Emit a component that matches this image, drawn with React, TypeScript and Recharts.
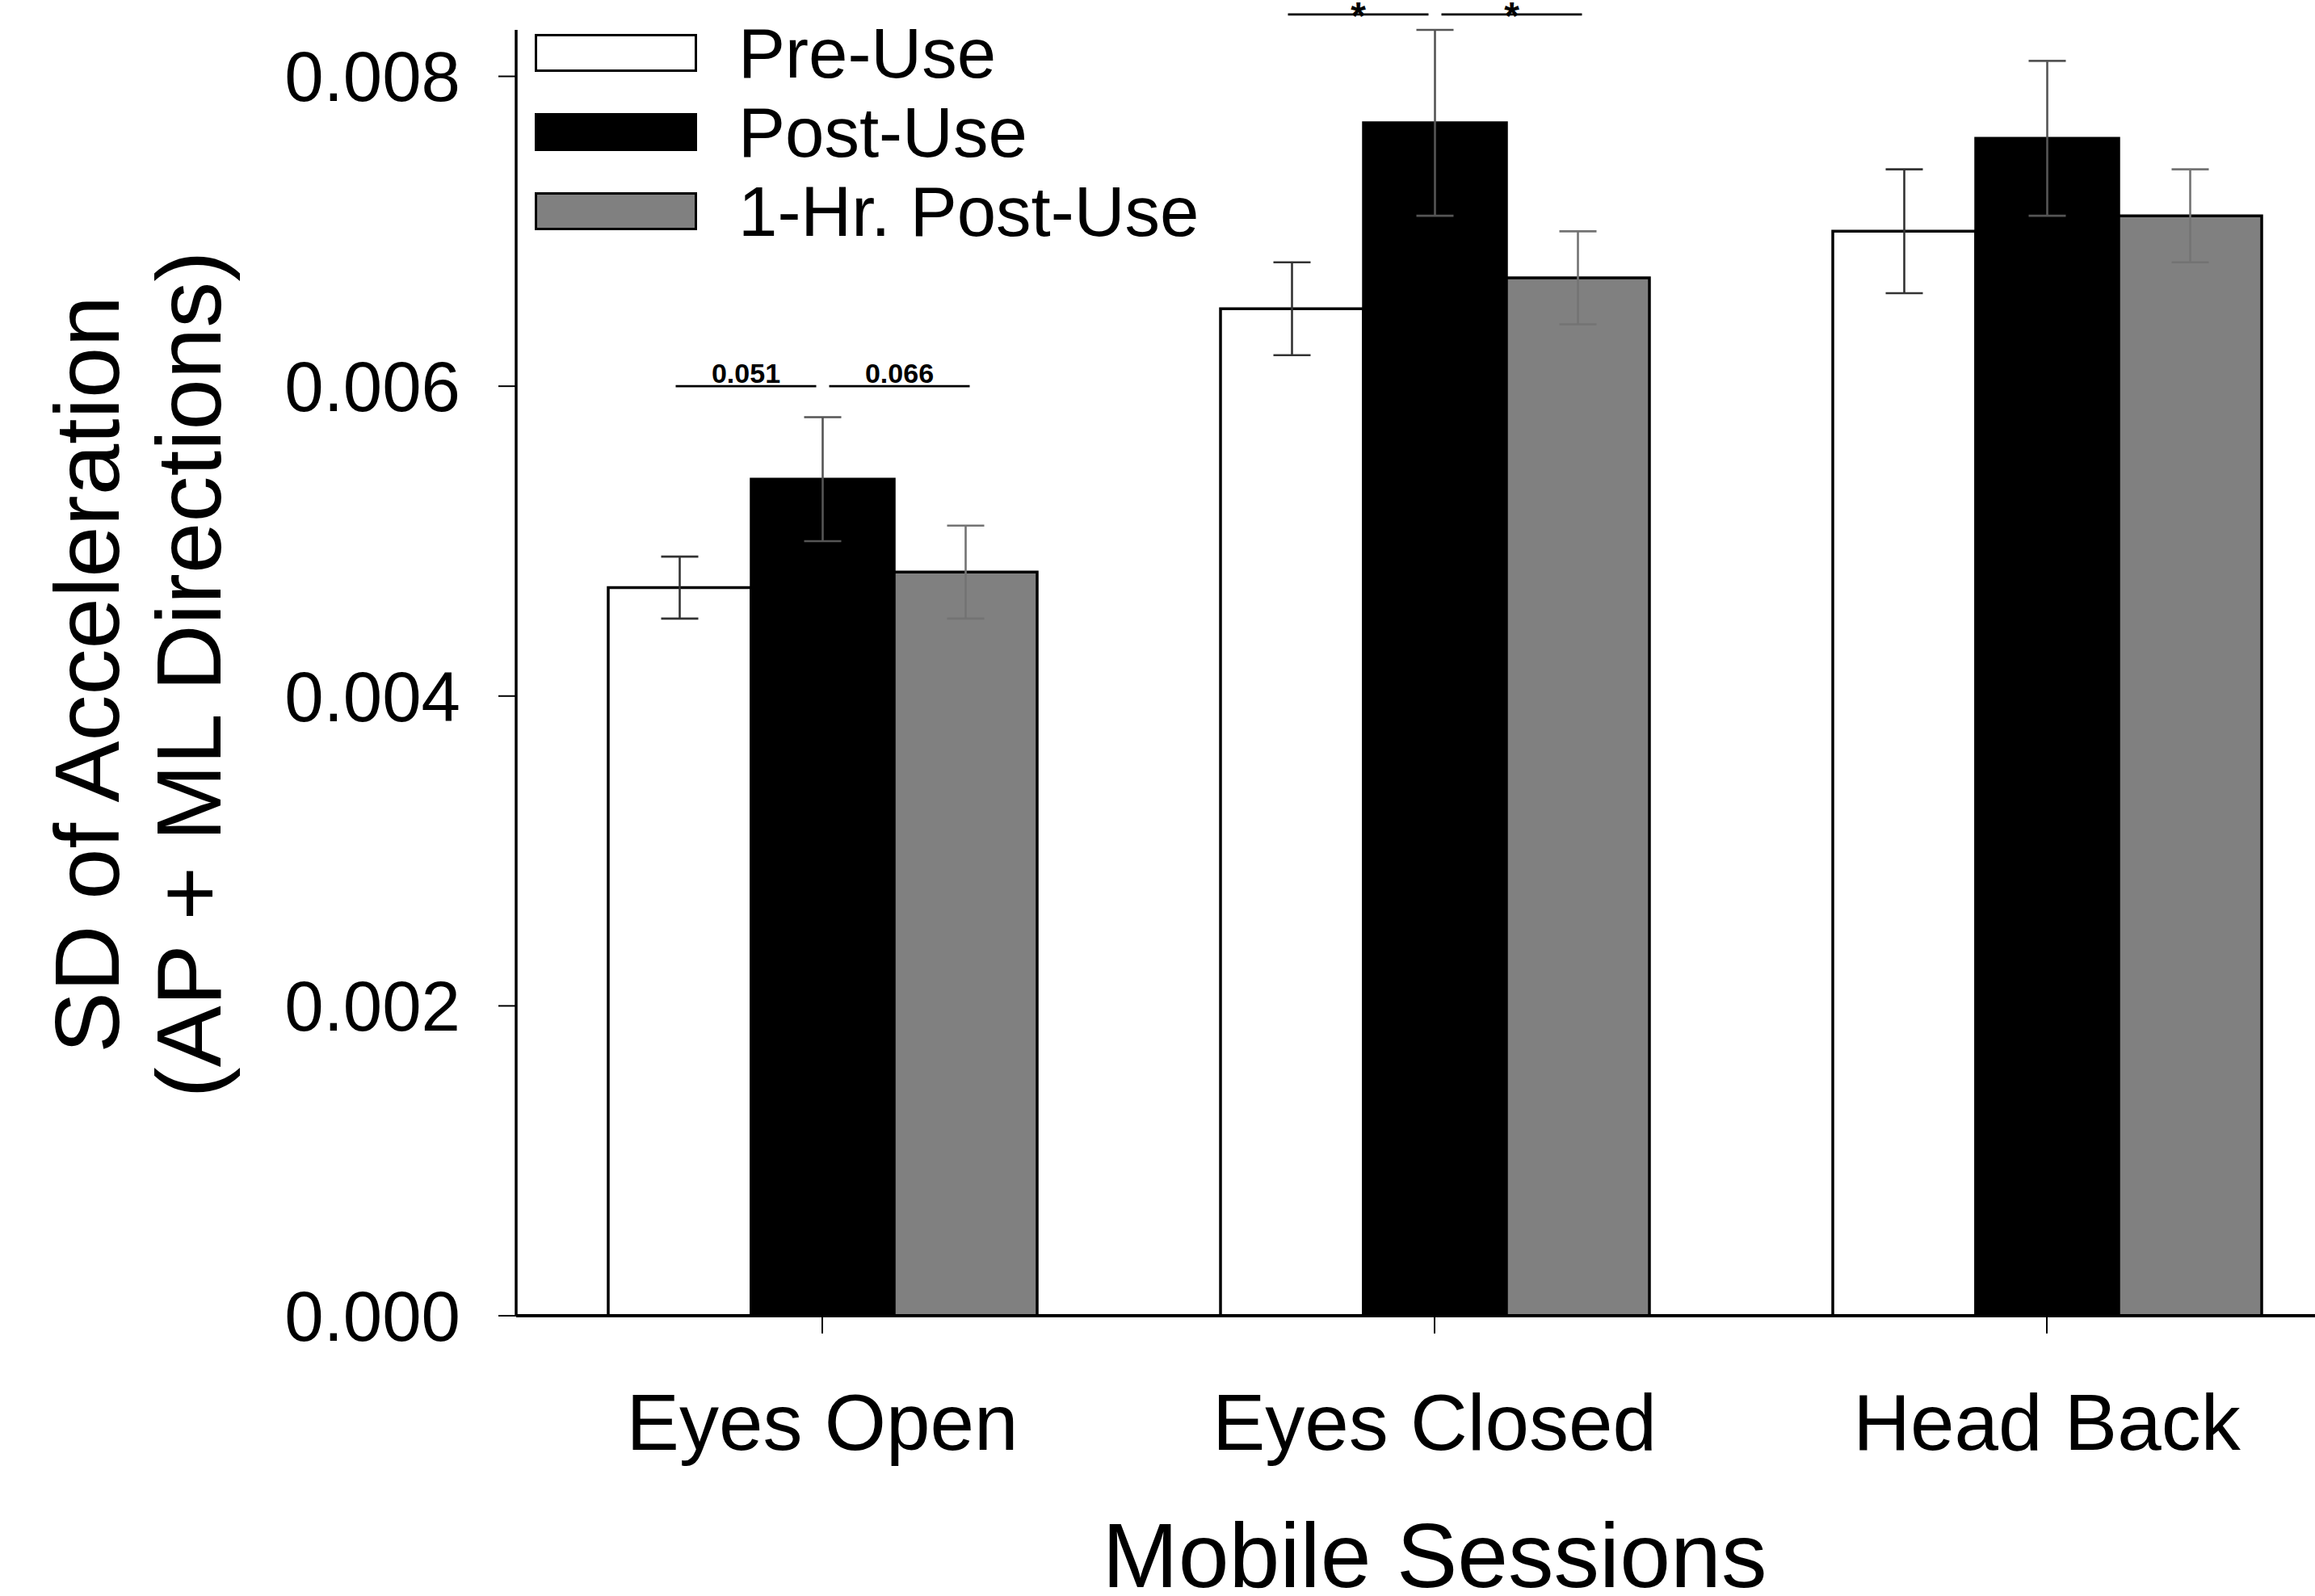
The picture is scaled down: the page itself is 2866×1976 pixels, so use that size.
import React from 'react';
import { ComposedChart, Bar, XAxis, YAxis, ErrorBar, Legend, LabelList } from 'recharts';

const sessions = ['Eyes Open', 'Eyes Closed', 'Head Back'];
const seriesNames = ['Pre-Use', 'Post-Use', '1-Hr. Post-Use'];

// means and SE for each session
const preUse = [0.0047, 0.0065, 0.007];
const postUse = [0.0054, 0.0077, 0.0076];
const hourPostUse = [0.0048, 0.0067, 0.0071];
const preErr = [0.0002, 0.0003, 0.0004];
const postErr = [0.0004, 0.0006, 0.0005];
const hourErr = [0.0003, 0.0003, 0.0003];

// pairwise comparisons: pre vs post, post vs 1-hr
const sigLeft = ['0.051', '*', ''];
const sigRight = ['0.066', '*', ''];
const sigLevel = [0.006, 0.0084, null];

const yTicks = [0, 0.002, 0.004, 0.006, 0.008];

const data = sessions.map((session, i) => ({
  session,
  pre: preUse[i],
  post: postUse[i],
  hour: hourPostUse[i],
  preErr: preErr[i],
  postErr: postErr[i],
  hourErr: hourErr[i],
}));

const FONT = '"Liberation Sans", Arial, Helvetica, sans-serif';
const fills = ['#ffffff', '#000000', '#808080'];

// brackets + p-values over each group, placed from the post-use bar geometry
const SigMarks = (props: any) => {
  const vb = props.viewBox ?? props;
  const { x, y, width, height } = vb;
  const index = props.index;
  const level = sigLevel[index];
  if (level == null) return null;
  const value = postUse[index];
  const base = y + height;
  const ly = base - (height / value) * level;
  const preC = x - width / 2;
  const postC = x + width / 2;
  const hourC = x + width * 1.5;
  const segs = [
    { x1: preC - 5, x2: postC - 8, text: sigLeft[index] },
    { x1: postC + 8, x2: hourC + 5, text: sigRight[index] },
  ];
  return (
    <g>
      {segs.map((s, k) => {
        const star = s.text === '*';
        return (
          <g key={k}>
            <line x1={s.x1} x2={s.x2} y1={ly} y2={ly} stroke="#000" strokeWidth={2.8} />
            <text
              x={(s.x1 + s.x2) / 2}
              y={star ? ly + 18 : ly - 4}
              textAnchor="middle"
              fontFamily={FONT}
              fontWeight="bold"
              fontSize={star ? 48 : 34}
              fill="#000"
            >
              {s.text}
            </text>
          </g>
        );
      })}
    </g>
  );
};

const YTitle = (props: any) => {
  const vb = props.viewBox;
  const cy = vb.y + vb.height / 2 + 2;
  return (
    <text
      transform={`translate(147, ${cy}) rotate(-90)`}
      textAnchor="middle"
      fontFamily={FONT}
      fontSize={114}
      fill="#000"
    >
      <tspan x={0} y={0}>SD of Acceleration</tspan>
      <tspan x={0} y={126}>(AP + ML Directions)</tspan>
    </text>
  );
};

const XTitle = (props: any) => {
  const vb = props.viewBox;
  return (
    <text
      x={vb.x + vb.width / 2}
      y={vb.y + 336}
      textAnchor="middle"
      fontFamily={FONT}
      fontSize={113}
      fill="#000"
    >
      Mobile Sessions
    </text>
  );
};

const LegendBox = () => (
  <div style={{ fontFamily: FONT }}>
    {seriesNames.map((name, i) => (
      <div
        key={name}
        style={{ display: 'flex', alignItems: 'center', height: 47, marginBottom: i < seriesNames.length - 1 ? 51 : 0 }}
      >
        <div
          style={{
            width: 201,
            height: 47,
            boxSizing: 'border-box',
            border: '3.5px solid #000',
            background: fills[i],
          }}
        />
        <span style={{ marginLeft: 51, fontSize: 87, lineHeight: 1, color: '#000', whiteSpace: 'nowrap' }}>
          {name}
        </span>
      </div>
    ))}
  </div>
);

export default function App() {
  return (
    <div style={{ position: 'absolute', left: 0, top: 0, width: 2866, height: 1976, overflow: 'hidden', background: '#fff' }}>
      <ComposedChart
        width={2933}
        height={1976}
        data={data}
        barGap={0}
        margin={{ top: 37, right: 20, left: 0, bottom: 0 }}
      >
        <XAxis
          dataKey="session"
          height={347}
          tickSize={22}
          tickMargin={74}
          axisLine={{ stroke: '#000', strokeWidth: 4 }}
          tickLine={{ stroke: '#000', strokeWidth: 2 }}
          tick={{ fill: '#000', fontSize: 98, fontFamily: FONT }}
          label={<XTitle />}
        />
        <YAxis
          width={639}
          domain={[0, 0.0083]}
          ticks={yTicks}
          interval={0}
          tickSize={22}
          tickMargin={47}
          tickFormatter={(v: number) => v.toFixed(3)}
          axisLine={{ stroke: '#000', strokeWidth: 3.5 }}
          tickLine={{ stroke: '#000', strokeWidth: 2 }}
          tick={{ fill: '#000', fontSize: 87, fontFamily: FONT }}
          label={<YTitle />}
        />
        {/* centered/middle so the legend doesn't eat into the plot offset */}
        <Legend
          layout="vertical"
          verticalAlign="middle"
          align="center"
          wrapperStyle={{ left: 662, top: 42, width: 'auto', height: 'auto' }}
          content={<LegendBox />}
        />
        <Bar dataKey="pre" name={seriesNames[0]} fill={fills[0]} stroke="#000" strokeWidth={3.5} barSize={177} isAnimationActive={false}>
          <ErrorBar dataKey="preErr" direction="y" width={23} stroke="#333333" strokeWidth={2.6} isAnimationActive={false} />
        </Bar>
        <Bar dataKey="post" name={seriesNames[1]} fill={fills[1]} stroke="#000" strokeWidth={3.5} barSize={177} isAnimationActive={false}>
          <ErrorBar dataKey="postErr" direction="y" width={23} stroke="#555555" strokeWidth={2.6} isAnimationActive={false} />
          <LabelList dataKey="post" content={<SigMarks />} />
        </Bar>
        <Bar dataKey="hour" name={seriesNames[2]} fill={fills[2]} stroke="#000" strokeWidth={3.5} barSize={177} isAnimationActive={false}>
          <ErrorBar dataKey="hourErr" direction="y" width={23} stroke="#737373" strokeWidth={2.6} isAnimationActive={false} />
        </Bar>
      </ComposedChart>
    </div>
  );
}
